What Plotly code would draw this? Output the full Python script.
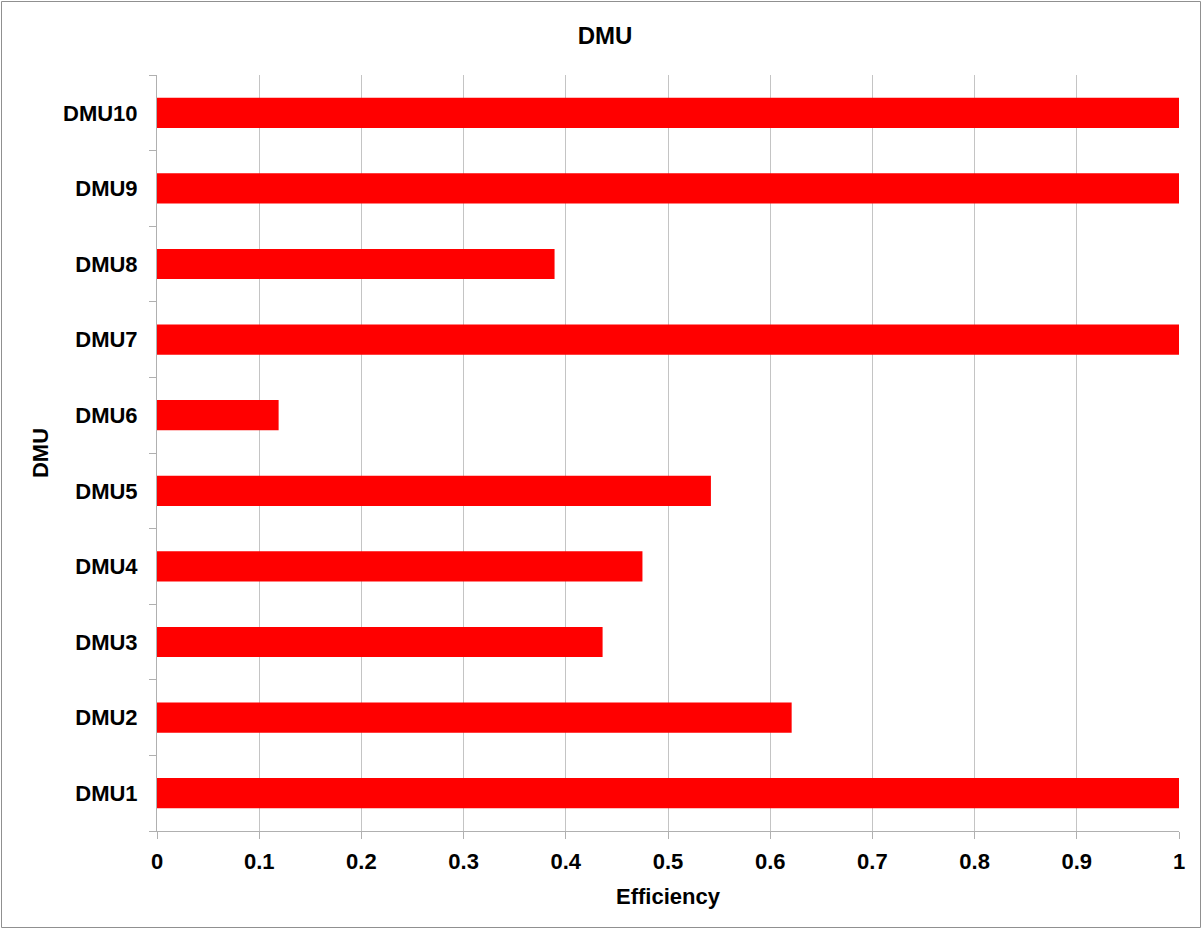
import plotly.graph_objects as go

# Efficiency score per decision-making unit
dmus = ["DMU1", "DMU2", "DMU3", "DMU4", "DMU5", "DMU6", "DMU7", "DMU8", "DMU9", "DMU10"]
efficiency = [1.0, 0.621, 0.436, 0.475, 0.542, 0.119, 1.0, 0.389, 1.0, 1.0]
x_ticks = [0, 0.1, 0.2, 0.3, 0.4, 0.5, 0.6, 0.7, 0.8, 0.9, 1]
x_tick_text = ["0", "0.1", "0.2", "0.3", "0.4", "0.5", "0.6", "0.7", "0.8", "0.9", "1"]

W, H = 1203, 930
L, R, T, B = 157, 24, 75, 99
font = "Liberation Sans, Arial, sans-serif"

fig = go.Figure(
    go.Bar(
        x=efficiency,
        y=dmus,
        orientation="h",
        width=0.4,
        marker=dict(color="#ff0000", line=dict(width=0)),
        showlegend=False,
    )
)

pw = W - L - R
ph = H - T - B

fig.update_layout(
    width=W,
    height=H,
    margin=dict(l=L, r=R, t=T, b=B),
    paper_bgcolor="white",
    plot_bgcolor="white",
    font=dict(family=font, color="black", size=22),
    title=dict(
        text="<b>DMU</b>",
        x=605 / W,
        xanchor="center",
        y=1 - 36 / H,
        yanchor="middle",
        font=dict(size=24, family=font, color="black"),
    ),
    xaxis=dict(
        range=[0, 1],
        tickvals=x_ticks,
        ticktext=[f"<b>{t}</b>" for t in x_tick_text],
        tickfont=dict(size=22),
        showgrid=True,
        gridcolor="#c4c4c4",
        gridwidth=1,
        showline=True,
        linecolor="#b0b0b0",
        linewidth=1,
        ticks="outside",
        ticklen=7,
        tickcolor="#b0b0b0",
        ticklabelstandoff=4,
        zeroline=False,
        title=dict(text="<b>Efficiency</b>", standoff=15, font=dict(size=22)),
        fixedrange=True,
    ),
    yaxis=dict(
        categoryorder="array",
        categoryarray=dmus,
        ticktext=[f"<b>{d}</b>" for d in dmus],
        tickvals=dmus,
        tickfont=dict(size=22),
        tickson="boundaries",
        ticks="outside",
        ticklen=7,
        tickcolor="#b0b0b0",
        showgrid=False,
        showline=True,
        linecolor="#b0b0b0",
        linewidth=1,
        ticklabelstandoff=14,
        title=dict(text="<b>DMU</b>", standoff=8, font=dict(size=22)),
        fixedrange=True,
    ),
    shapes=[
        # outer chart frame
        dict(
            type="rect",
            xref="paper",
            yref="paper",
            x0=(1.5 - L) / pw,
            x1=(W - 2.5 - L) / pw,
            y0=-(B - 2.5) / ph,
            y1=1 + (T - 1.5) / ph,
            line=dict(color="#909090", width=1),
            fillcolor="rgba(0,0,0,0)",
            layer="below",
        )
    ],
)

fig.write_html("out.html")
